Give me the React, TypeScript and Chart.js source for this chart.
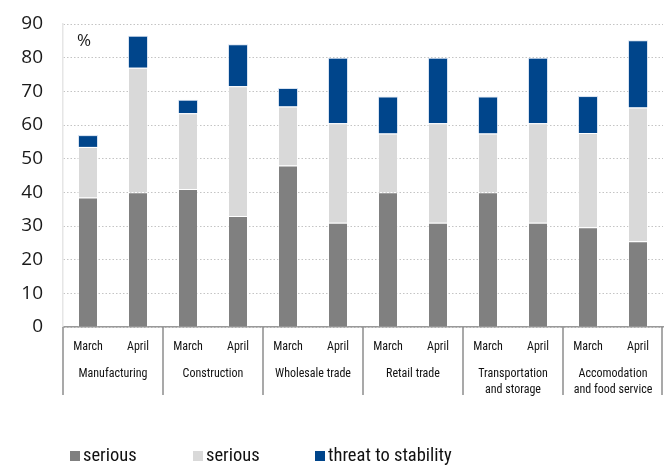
import React, { useEffect, useRef } from "react";
import { Chart, registerables } from "chart.js";

Chart.register(...registerables);

const months = ["March", "April", "March", "April", "March", "April", "March", "April", "March", "April", "March", "April"];
const groups = [
  ["Manufacturing"],
  ["Construction"],
  ["Wholesale trade"],
  ["Retail trade"],
  ["Transportation", "and storage"],
  ["Accomodation", "and food service"],
];
const seriesDark = [38.5, 40, 41, 33, 48, 31, 40, 31, 40, 31, 29.6, 25.5];
const seriesLight = [15, 37, 22.5, 38.5, 17.5, 29.5, 17.5, 29.5, 17.5, 29.5, 28, 39.7];
const seriesThreat = [3.5, 9.5, 4, 12.5, 5.5, 19.5, 11, 19.5, 11, 19.5, 11, 20];
const seriesNames = ["serious", "serious", "threat to stability"];
const seriesColors = ["#808080", "#d9d9d9", "#00458b"];
const yTicks = { min: 0, max: 90, step: 10 };
const unitLabel = "%";

const LABEL_FONT = "'Roboto Condensed', 'Liberation Sans', sans-serif";

const groupSeparators = {
  id: "groupSeparators",
  afterDraw(chart: any) {
    const x = chart.scales.x;
    const x2 = chart.scales.x2;
    const y = chart.scales.y;
    const ctx = chart.ctx;
    const top = chart.chartArea.bottom;
    ctx.save();
    ctx.strokeStyle = "#8c8c8c";
    ctx.lineWidth = 1.5;
    for (let g = 0; g <= groups.length; g++) {
      let px = Math.round(x.getPixelForValue(g * 2 - 0.5));
      if (g === groups.length) px -= 1;
      ctx.beginPath();
      ctx.moveTo(px, top);
      ctx.lineTo(px, x2.bottom - 2);
      ctx.stroke();
    }
    ctx.fillStyle = "#1a1a1a";
    ctx.font = "17px 'Open Sans', sans-serif";
    ctx.textBaseline = "middle";
    ctx.textAlign = "left";
    ctx.fillText(unitLabel, chart.chartArea.left + 14, y.getPixelForValue(85));
    ctx.restore();
  },
};

export default function App() {
  const ref = useRef<HTMLCanvasElement | null>(null);
  useEffect(() => {
    if (!ref.current) return;
    const border = "rgba(255,255,255,0.55)";
    const chart = new Chart(ref.current, {
      type: "bar",
      data: {
        labels: months,
        datasets: [
          { label: seriesNames[0], data: seriesDark, backgroundColor: seriesColors[0], borderColor: border, borderWidth: 1 },
          { label: seriesNames[1], data: seriesLight, backgroundColor: seriesColors[1], borderColor: border, borderWidth: 1 },
          { label: seriesNames[2], data: seriesThreat, backgroundColor: seriesColors[2], borderColor: "rgba(200,215,235,0.7)", borderWidth: 1 },
        ],
      },
      options: {
        animation: false,
        responsive: false,
        maintainAspectRatio: false,
        layout: { padding: { top: 24, left: 0, right: 1, bottom: 70 } },
        datasets: { bar: { barPercentage: 0.4, categoryPercentage: 1 } },
        plugins: { legend: { display: false }, tooltip: { enabled: false } },
        scales: {
          x: {
            stacked: true,
            grid: { display: false },
            border: { display: true, color: "#999999", width: 1.5 },
            ticks: {
              autoSkip: false,
              maxRotation: 0,
              color: "#111111",
              padding: 5,
              font: { family: LABEL_FONT, size: 12 },
            },
            afterFit: (s: any) => {
              s.height = 30;
              s.paddingLeft = 0;
              s.paddingRight = 0;
            },
          },
          x2: {
            type: "category",
            position: "bottom",
            labels: groups as any,
            offset: true,
            grid: { display: false },
            border: { display: false },
            ticks: {
              autoSkip: false,
              maxRotation: 0,
              color: "#111111",
              padding: 1,
              font: { family: LABEL_FONT, size: 12, lineHeight: 1.35 },
            },
            afterFit: (s: any) => {
              s.height = 40;
              s.paddingLeft = 0;
              s.paddingRight = 0;
            },
          },
          y: {
            stacked: true,
            min: yTicks.min,
            max: yTicks.max,
            ticks: {
              stepSize: yTicks.step,
              color: "#1a1a1a",
              padding: 20,
              font: { family: "'Open Sans', sans-serif", size: 19 },
            },
            grid: {
              color: "#c4c4c4",
              lineWidth: 1,
              drawTicks: false,
            },
            border: { display: true, color: "#e6e6e6", width: 1.5, dash: [1.5, 2] } as any,
            afterFit: (s: any) => {
              s.width = 63;
              s.paddingTop = 0;
              s.paddingBottom = 0;
            },
          },
        },
      },
      plugins: [groupSeparators],
    } as any);
    return () => chart.destroy();
  }, []);

  const legendLeft = [70, 193, 315];
  return (
    <div style={{ position: "absolute", left: 0, top: 0, width: 664, height: 467, background: "#fff" }}>
      <canvas ref={ref} width={664} height={467} style={{ position: "absolute", left: 0, top: 0 }} />
      {seriesNames.map((name, i) => (
        <div
          key={i}
          style={{
            position: "absolute",
            left: legendLeft[i],
            top: 443,
            height: 24,
            display: "flex",
            alignItems: "center",
            fontFamily: LABEL_FONT,
            fontSize: 18.5,
            color: "#111",
            whiteSpace: "nowrap",
          }}
        >
          <span style={{ display: "inline-block", width: 10, height: 10, background: seriesColors[i], marginRight: 3, marginTop: 2 }} />
          <span>{name}</span>
        </div>
      ))}
    </div>
  );
}
